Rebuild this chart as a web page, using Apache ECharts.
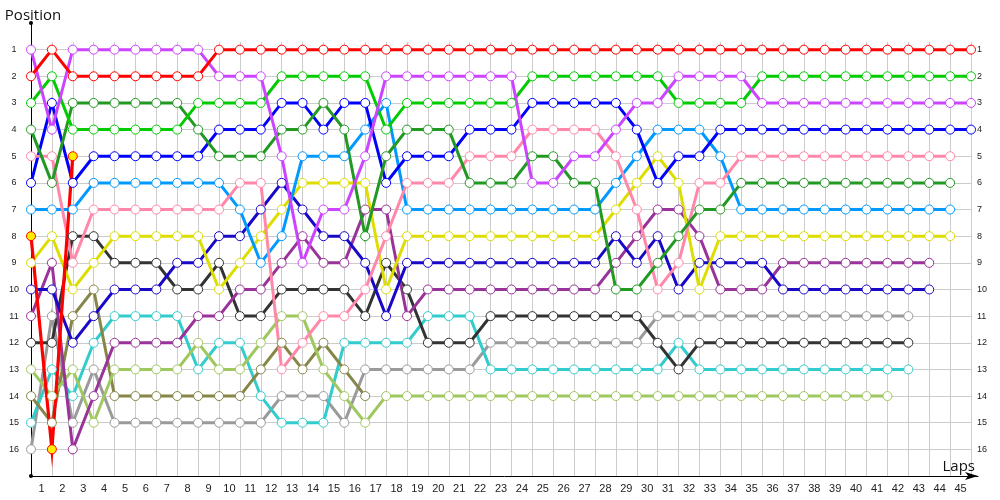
<!DOCTYPE html>
<html>
<head>
<meta charset="utf-8">
<script src="https://cdn.jsdelivr.net/npm/echarts@6/dist/echarts.min.js"></script>
<style>
html,body{margin:0;padding:0;background:#fff;}
#chart{width:1000px;height:500px;}
</style>
</head>
<body>
<div id="chart"></div>
<script>
// Lap tick labels (shown between grid lines) and lap numbers (0 = grid)
const lapLabels = ['1','2','3','4','5','6','7','8','9','10','11','12','13','14','15','16','17','18','19','20','21','22','23','24','25','26','27','28','29','30','31','32','33','34','35','36','37','38','39','40','41','42','43','44','45'];
const laps = [0,1,2,3,4,5,6,7,8,9,10,11,12,13,14,15,16,17,18,19,20,21,22,23,24,25,26,27,28,29,30,31,32,33,34,35,36,37,38,39,40,41,42,43,44,45];
const positionTicks = [1,2,3,4,5,6,7,8,9,10,11,12,13,14,15,16];

// Position of each car per lap (index 0 = starting grid)
const grayCar    = [16,11,15,13,15,15,15,15,15,15,15,15,14,14,14,15,13,13,13,13,13,13,12,12,12,12,12,12,12,12,11,11,11,11,11,11,11,11,11,11,11,11,11];
const cyanCar    = [15,13,14,12,11,11,11,11,13,12,12,14,15,15,15,12,12,12,12,11,11,11,13,13,13,13,13,13,13,13,13,12,13,13,13,13,13,13,13,13,13,13,13];
const oliveCar   = [14,15,11,10,14,14,14,14,14,14,14,13,12,13,12,13,14];
const lgreenCar  = [13,14,13,15,13,13,13,13,12,13,13,12,11,11,13,14,15,14,14,14,14,14,14,14,14,14,14,14,14,14,14,14,14,14,14,14,14,14,14,14,14,14];
const blackCar   = [12,12,8,8,9,9,9,10,10,9,11,11,10,10,10,10,11,9,10,12,12,12,11,11,11,11,11,11,11,11,12,13,12,12,12,12,12,12,12,12,12,12,12];
const purpleCar  = [11,9,16,14,12,12,12,12,11,11,10,10,9,8,9,9,7,7,11,10,10,10,10,10,10,10,10,10,9,8,7,7,8,10,10,10,9,9,9,9,9,9,9,9];
const navyCar    = [10,10,12,11,10,10,10,9,9,8,8,7,6,7,8,8,9,11,9,9,9,9,9,9,9,9,9,9,8,9,8,10,9,9,9,9,10,10,10,10,10,10,10,10];
const yellowCar  = [9,8,10,9,8,8,8,8,8,10,9,8,7,6,6,6,6,10,8,8,8,8,8,8,8,8,8,8,7,6,5,6,10,8,8,8,8,8,8,8,8,8,8,8,8];
const lblueCar   = [7,7,7,6,6,6,6,6,6,6,7,9,8,5,5,5,4,3,7,7,7,7,7,7,7,7,7,7,6,5,4,4,4,5,7,7,7,7,7,7,7,7,7,7,7];
const blueCar    = [6,3,6,5,5,5,5,5,5,4,4,4,3,3,4,3,3,6,5,5,5,4,4,4,3,3,3,3,3,4,6,5,5,4,4,4,4,4,4,4,4,4,4,4,4,4];
const pinkCar    = [5,5,9,7,7,7,7,7,7,7,6,6,13,12,11,11,10,8,6,6,6,5,5,5,4,4,4,4,5,7,10,9,6,6,5,5,5,5,5,5,5,5,5,5,5];
const dgreenCar  = [4,6,3,3,3,3,3,3,4,5,5,5,4,4,3,4,8,5,4,4,4,6,6,6,5,5,6,6,10,10,9,8,7,7,6,6,6,6,6,6,6,6,6,6,6];
const greenCar   = [3,2,4,4,4,4,4,4,3,3,3,3,2,2,2,2,2,4,3,3,3,3,3,3,2,2,2,2,2,2,2,3,3,3,3,2,2,2,2,2,2,2,2,2,2,2];
const magentaCar = [1,4,1,1,1,1,1,1,1,2,2,2,5,9,7,7,5,2,2,2,2,2,2,2,6,6,5,5,4,3,3,2,2,2,2,3,3,3,3,3,3,3,3,3,3,3];
const redCar     = [2,1,2,2,2,2,2,2,2,1,1,1,1,1,1,1,1,1,1,1,1,1,1,1,1,1,1,1,1,1,1,1,1,1,1,1,1,1,1,1,1,1,1,1,1,1];
const redYellowCar = [8,16,5];

const cars = [
  {data: grayCar,    color: '#9a9a9a'},
  {data: cyanCar,    color: '#33cccc'},
  {data: oliveCar,   color: '#868648'},
  {data: lgreenCar,  color: '#a0c860'},
  {data: blackCar,   color: '#333333'},
  {data: purpleCar,  color: '#993399'},
  {data: navyCar,    color: '#1a08c8'},
  {data: yellowCar,  color: '#dddd00'},
  {data: lblueCar,   color: '#0099ff'},
  {data: blueCar,    color: '#0000ff'},
  {data: pinkCar,    color: '#ff88aa'},
  {data: dgreenCar,  color: '#229922'},
  {data: greenCar,   color: '#00cc00'},
  {data: magentaCar, color: '#cc44ff'},
  {data: redCar,     color: '#ff0000'},
  {data: redYellowCar, color: '#ff0000', fill: '#ffee00', width: 3.2}
];

const series = cars.map(c => ({
  type: 'line',
  xAxisIndex: 0,
  yAxisIndex: 0,
  data: c.data.map((p, i) => [laps[i], p]),
  symbol: 'circle',
  symbolSize: 9,
  showAllSymbol: true,
  lineStyle: {color: c.color, width: c.width || 3, join: 'miter', miterLimit: 30},
  itemStyle: {color: c.fill || '#ffffff', borderColor: c.color, borderWidth: 1},
  emphasis: {disabled: true},
  silent: true
}));

const hLineColors = positionTicks.map(() => '#cccccc');
hLineColors.unshift('rgba(0,0,0,0)');
hLineColors.push('rgba(0,0,0,0)');

const labelFont = 'Liberation Sans';
const nameFont = 'Open Sans';

const option = {
  animation: false,
  backgroundColor: '#ffffff',
  grid: [
    {left: 31, right: 22, top: 23, bottom: 24},
    {left: 31, right: 29, top: 42, bottom: 24},
    {left: 31, right: 29, top: 23, bottom: 24}
  ],
  xAxis: [
    {
      gridIndex: 0, type: 'value', min: 0, max: 45.335, position: 'bottom',
      axisLabel: {show: false}, axisTick: {show: false}, splitLine: {show: false},
      axisLine: {show: true, onZero: false, lineStyle: {color: '#000', width: 1}, symbol: ['none', 'arrow'], symbolSize: [6, 13]},
      name: 'Laps', nameLocation: 'end', nameGap: 0,
      nameTextStyle: {fontFamily: nameFont, fontSize: 15, color: '#111', align: 'right', verticalAlign: 'bottom', padding: [0, 3, 2, 0]}
    },
    {
      gridIndex: 1, type: 'category', data: lapLabels, boundaryGap: true, position: 'bottom',
      axisLine: {show: false, onZero: false}, axisTick: {show: false},
      axisLabel: {interval: 0, fontFamily: labelFont, fontSize: 11, color: '#222', margin: 7},
      splitLine: {show: true, interval: 0, lineStyle: {color: '#cccccc', width: 1}}
    },
    {gridIndex: 2, type: 'value', min: 0, max: 45, show: false}
  ],
  yAxis: [
    {
      gridIndex: 0, type: 'value', inverse: true, min: 0, max: 17, interval: 1,
      axisLabel: {fontFamily: labelFont, fontSize: 9, color: '#222', align: 'center', margin: 17,
        formatter: v => (positionTicks.indexOf(v) >= 0 ? String(v) : '')},
      axisTick: {show: false}, splitLine: {show: false},
      axisLine: {show: true, onZero: false, lineStyle: {color: '#000', width: 1}, symbol: ['circle', 'circle'], symbolSize: [4, 4]},
      name: 'Position', nameLocation: 'start', nameGap: 7,
      nameTextStyle: {fontFamily: nameFont, fontSize: 15, color: '#111', align: 'center', verticalAlign: 'middle', padding: [0, 0, 0, 4]}
    },
    {gridIndex: 1, type: 'value', min: 0, max: 1, show: false},
    {
      gridIndex: 2, type: 'value', inverse: true, min: 0, max: 17, interval: 1, position: 'right',
      axisLine: {show: false}, axisTick: {show: false},
      axisLabel: {fontFamily: labelFont, fontSize: 9, color: '#222', align: 'left', margin: 6,
        formatter: v => (positionTicks.indexOf(v) >= 0 ? String(v) : '')},
      splitLine: {show: true, lineStyle: {color: hLineColors, width: 1}}
    }
  ],
  series: series
};

const chart = echarts.init(document.getElementById('chart'), null, {renderer: 'canvas'});
chart.setOption(option);
</script>
</body>
</html>
